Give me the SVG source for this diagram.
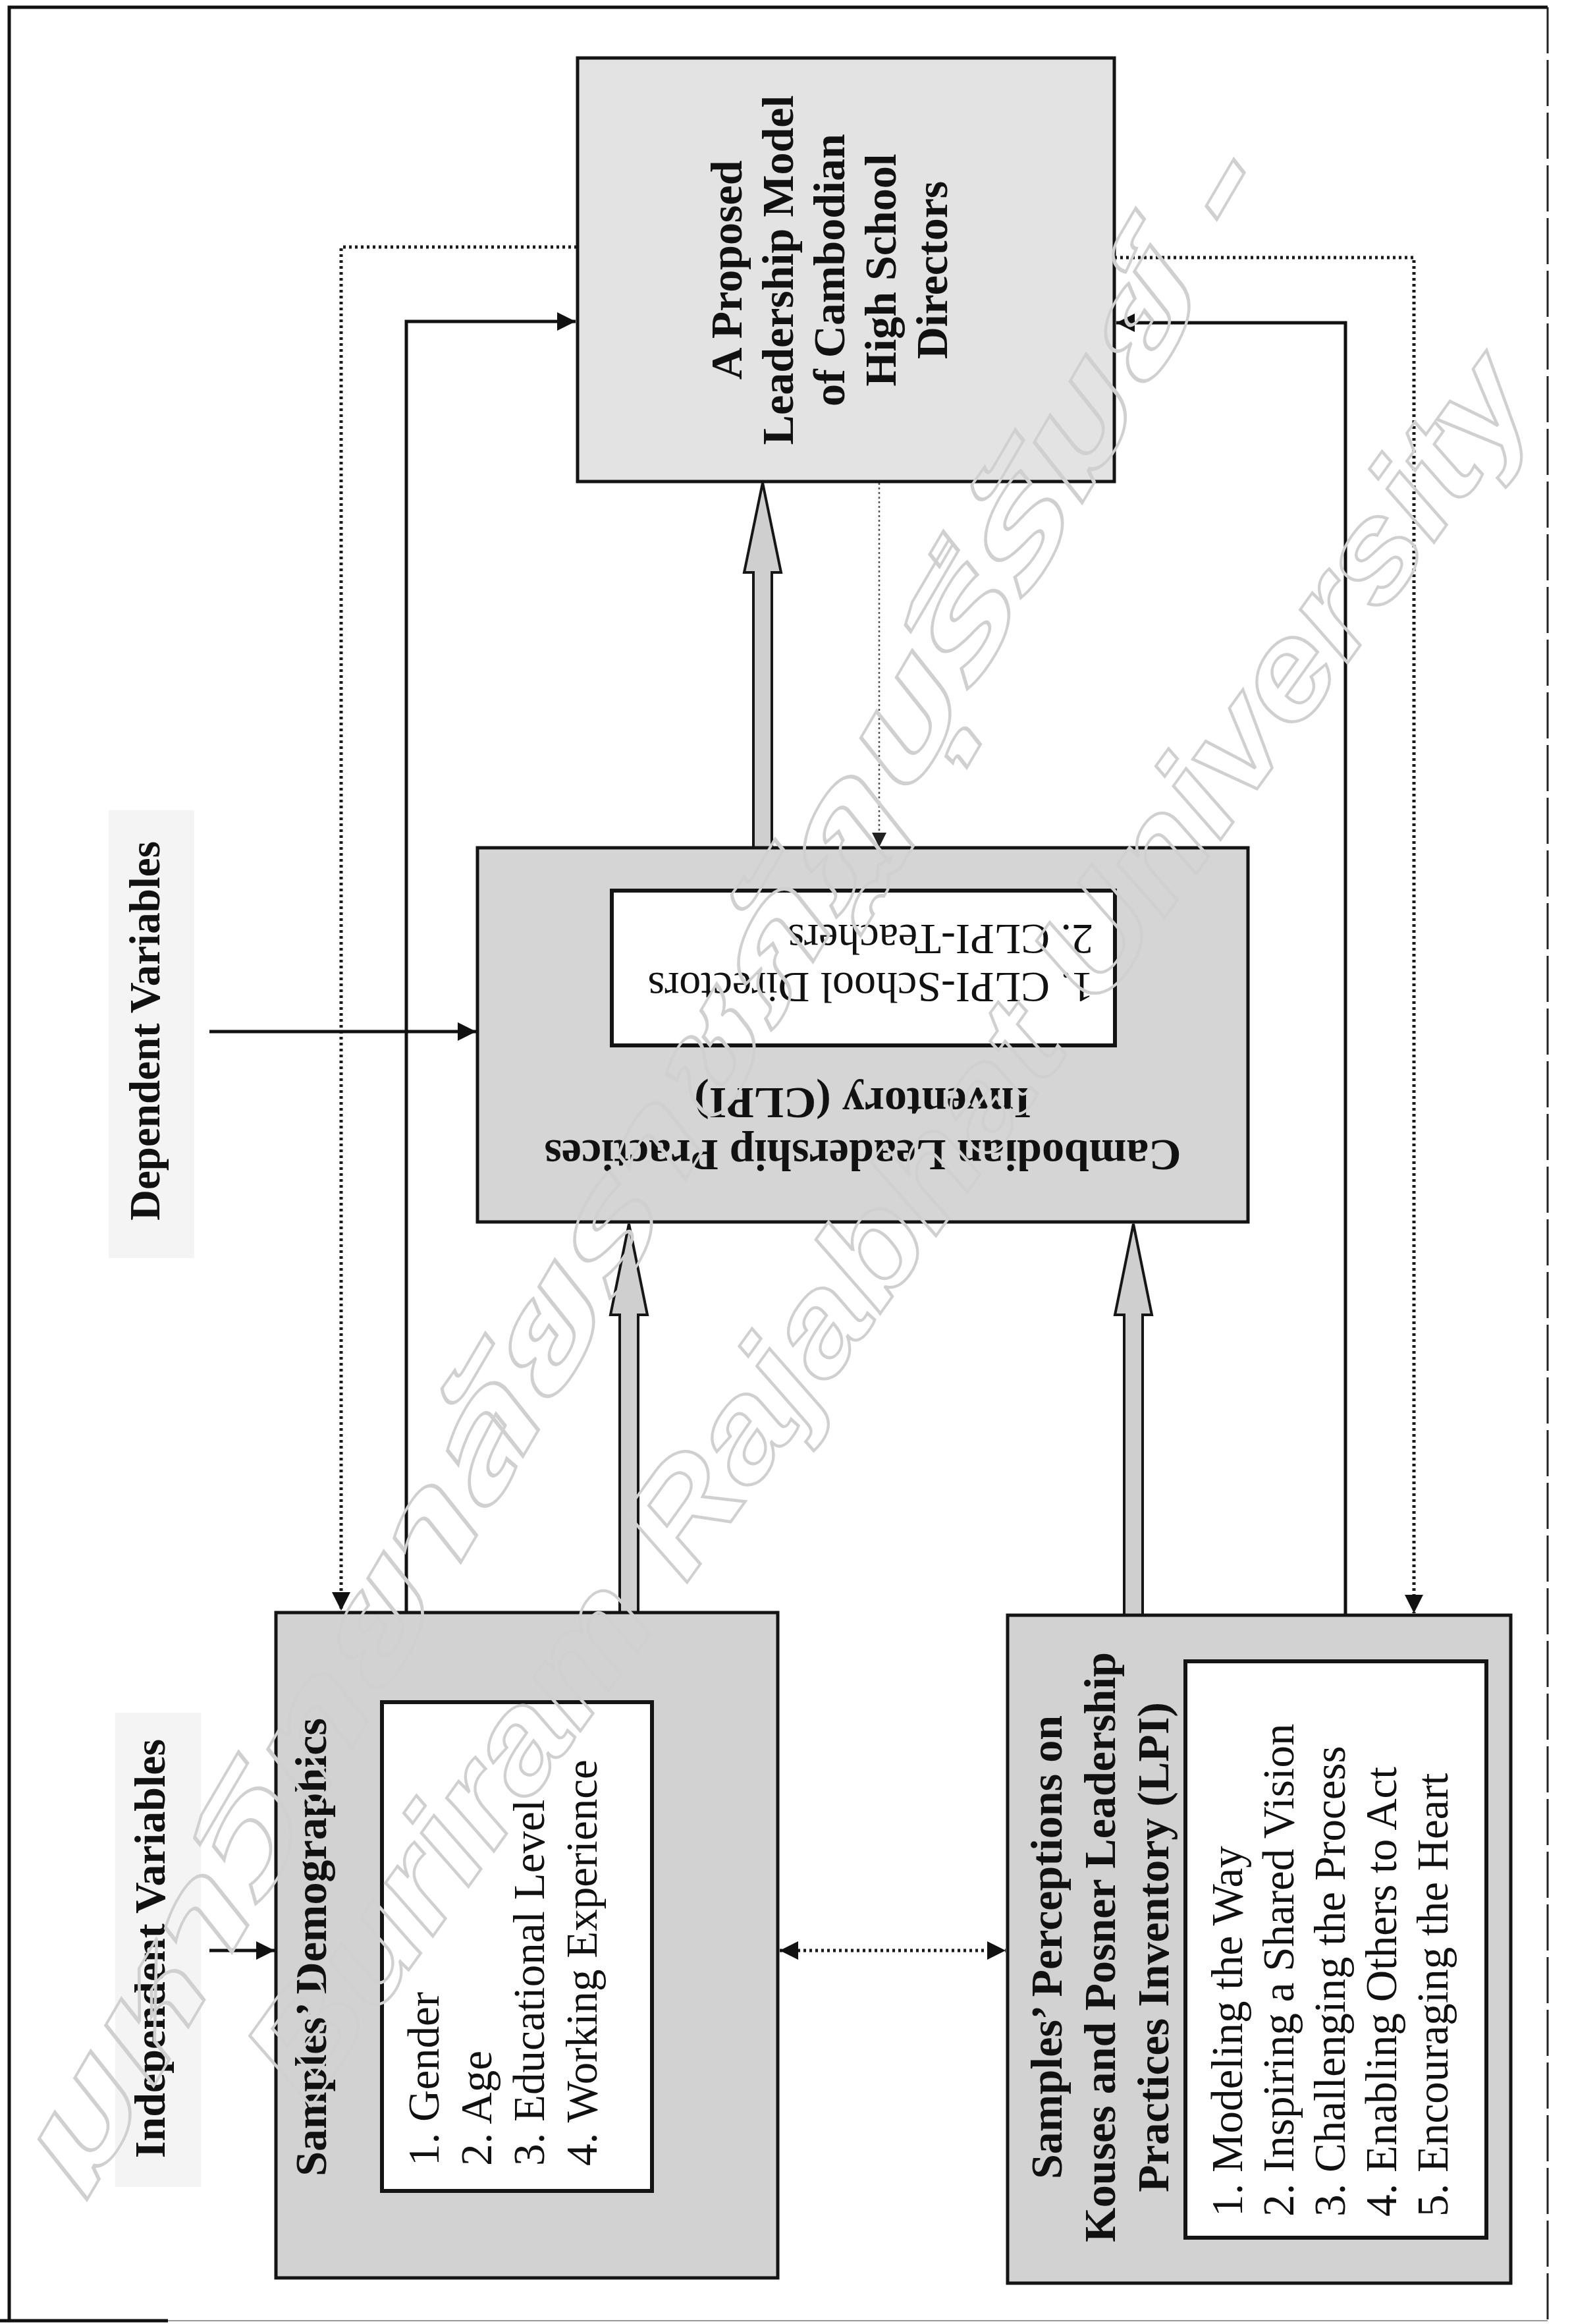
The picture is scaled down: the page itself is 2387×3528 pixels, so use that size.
<svg xmlns="http://www.w3.org/2000/svg" width="2387" height="3528" viewBox="0 0 2387 3528">
<style>
.t{font-family:"Liberation Serif","Times New Roman",serif;fill:#111}
.b{font-weight:bold}
.ti{font-size:68px}
.li{font-size:67px}
.box{stroke:#141414;stroke-width:5}
.inner{fill:#fff;stroke:#141414;stroke-width:6}
.solid{fill:none;stroke:#111;stroke-width:5}
.dot{fill:none;stroke:#1a1a1a;stroke-width:5;stroke-dasharray:4 5}
.thin{fill:none;stroke:#555;stroke-width:2.5;stroke-dasharray:3 4}
.blk{fill:#cfcfcf;stroke:#161616;stroke-width:4;stroke-linejoin:miter}
.wm{fill:none;stroke:#d0d0d0;stroke-width:4;font-weight:bold;font-style:italic}
</style>
<defs>
<marker id="ah" viewBox="0 0 10 10" refX="10" refY="5" markerWidth="34" markerHeight="28" markerUnits="userSpaceOnUse" orient="auto-start-reverse"><path d="M0,0 L10,5 L0,10 z" fill="#111"/></marker>
<marker id="ahs" viewBox="0 0 10 10" refX="10" refY="5" markerWidth="26" markerHeight="22" markerUnits="userSpaceOnUse" orient="auto"><path d="M0,0 L10,5 L0,10 z" fill="#222"/></marker>
</defs>
<rect width="2387" height="3528" fill="#fff"/>
<g id="frame">
<path d="M14,3523 V11 H2350" fill="none" stroke="#111" stroke-width="5"/>
<line x1="2350" y1="11" x2="2350" y2="3523" stroke="#222" stroke-width="3" stroke-dasharray="70 10"/>
<line x1="14" y1="3523" x2="2350" y2="3523" stroke="#999" stroke-width="2"/>
<line x1="0" y1="3523" x2="255" y2="3523" stroke="#111" stroke-width="5"/>
</g>
<g id="connectors">
<path class="dot" d="M876,375 H518 V2445" marker-end="url(#ah)"/>
<path class="solid" d="M617,2448 V488 H874" marker-end="url(#ah)"/>
<path class="solid" d="M2043,2452 V490 H1695" marker-end="url(#ah)"/>
<path class="dot" d="M1692,391 H2147 V2449" marker-end="url(#ah)"/>
<path class="thin" d="M1335,733 V1286" marker-end="url(#ahs)"/>
<path class="solid" d="M318,1566 H723" marker-end="url(#ah)"/>
<path class="solid" d="M318,2961 H417" marker-end="url(#ah)"/>
<path class="dot" d="M1184,2961 H1527" marker-start="url(#ah)" marker-end="url(#ah)"/>
<polygon class="blk" points="1158,733 1186,869 1172,869 1172,1287 1144,1287 1144,869 1130,869"/>
<polygon class="blk" points="955,1858 983,1996 969,1996 969,2448 941,2448 941,1996 927,1996"/>
<polygon class="blk" points="1721,1858 1749,1996 1735,1996 1735,2452 1707,2452 1707,1996 1693,1996"/>
</g>
<g id="label-dependent">
<rect x="165" y="1230" width="130" height="680" fill="#f4f4f4"/>
<text class="t b" font-size="65" text-anchor="middle" transform="translate(242,1565) rotate(-90)">Dependent Variables</text>
</g>
<g id="label-independent">
<rect x="175" y="2600" width="130" height="720" fill="#f4f4f4"/>
<text class="t b" font-size="66" text-anchor="middle" transform="translate(250,2958) rotate(-90)">Independent Variables</text>
</g>
<g id="node-proposed-model">
<rect class="box" x="877" y="88" width="815" height="643" fill="#e3e3e3"/>
<g class="t b ti" text-anchor="middle">
<text transform="translate(1126,410) rotate(-90)">A Proposed</text>
<text transform="translate(1204,410) rotate(-90)">Leadership Model</text>
<text transform="translate(1282,410) rotate(-90)">of Cambodian</text>
<text transform="translate(1360,410) rotate(-90)">High School</text>
<text transform="translate(1438,410) rotate(-90)">Directors</text>
</g>
</g>
<g id="node-clpi">
<rect class="box" x="725" y="1287" width="1170" height="568" fill="#d5d5d5"/>
<rect class="inner" x="929" y="1352" width="764" height="235"/>
<g class="t b ti" text-anchor="middle">
<text transform="translate(1310,1731) rotate(180)">Cambodian Leadership Practices</text>
<text transform="translate(1310,1652) rotate(180)">Inventory (CLPI)</text>
</g>
<g class="t" font-size="66">
<text transform="translate(1660,1477) rotate(180)">1. CLPI-School Directors</text>
<text transform="translate(1660,1404) rotate(180)">2. CLPI-Teachers</text>
</g>
</g>
<g id="node-demographics">
<rect class="box" x="419" y="2448" width="762" height="1010" fill="#d2d2d2"/>
<rect class="inner" x="580" y="2584" width="410" height="742"/>
<text class="t b ti" text-anchor="middle" transform="translate(495,2956) rotate(-90)">Samples’ Demographics</text>
<g class="t li">
<text transform="translate(666,3288) rotate(-90)">1. Gender</text>
<text transform="translate(746,3288) rotate(-90)">2. Age</text>
<text transform="translate(826,3288) rotate(-90)">3. Educational Level</text>
<text transform="translate(906,3288) rotate(-90)">4. Working Experience</text>
</g>
</g>
<g id="node-lpi">
<rect class="box" x="1530" y="2452" width="764" height="1014" fill="#d2d2d2"/>
<rect class="inner" x="1800" y="2522" width="457" height="875"/>
<g class="t b ti" text-anchor="middle">
<text transform="translate(1612,2956) rotate(-90)">Samples’ Perceptions on</text>
<text transform="translate(1693,2956) rotate(-90)">Kouses and Posner Leadership</text>
<text transform="translate(1774,2956) rotate(-90)">Practices Inventory (LPI)</text>
</g>
<g class="t li">
<text transform="translate(1886,3365) rotate(-90)">1. Modeling the Way</text>
<text transform="translate(1964,3365) rotate(-90)">2. Inspiring a Shared Vision</text>
<text transform="translate(2042,3365) rotate(-90)">3. Challenging the Process</text>
<text transform="translate(2120,3365) rotate(-90)">4. Enabling Others to Act</text>
<text transform="translate(2198,3365) rotate(-90)">5. Encouraging the Heart</text>
</g>
</g>
<g id="watermark">
<text class="wm" font-family="'Noto Sans Thai','Noto Sans',sans-serif" font-size="200" transform="translate(120,3360) rotate(-59.6)" textLength="3560" lengthAdjust="spacingAndGlyphs">มหาวิทยาลัยราชภัฏบุรีรัมย์ -</text>
<text class="wm" font-family="'Liberation Sans',Arial,sans-serif" font-size="200" transform="translate(470,3200) rotate(-54.3)" textLength="3200" lengthAdjust="spacingAndGlyphs">Buriram Rajabhat University</text>
</g>
</svg>
